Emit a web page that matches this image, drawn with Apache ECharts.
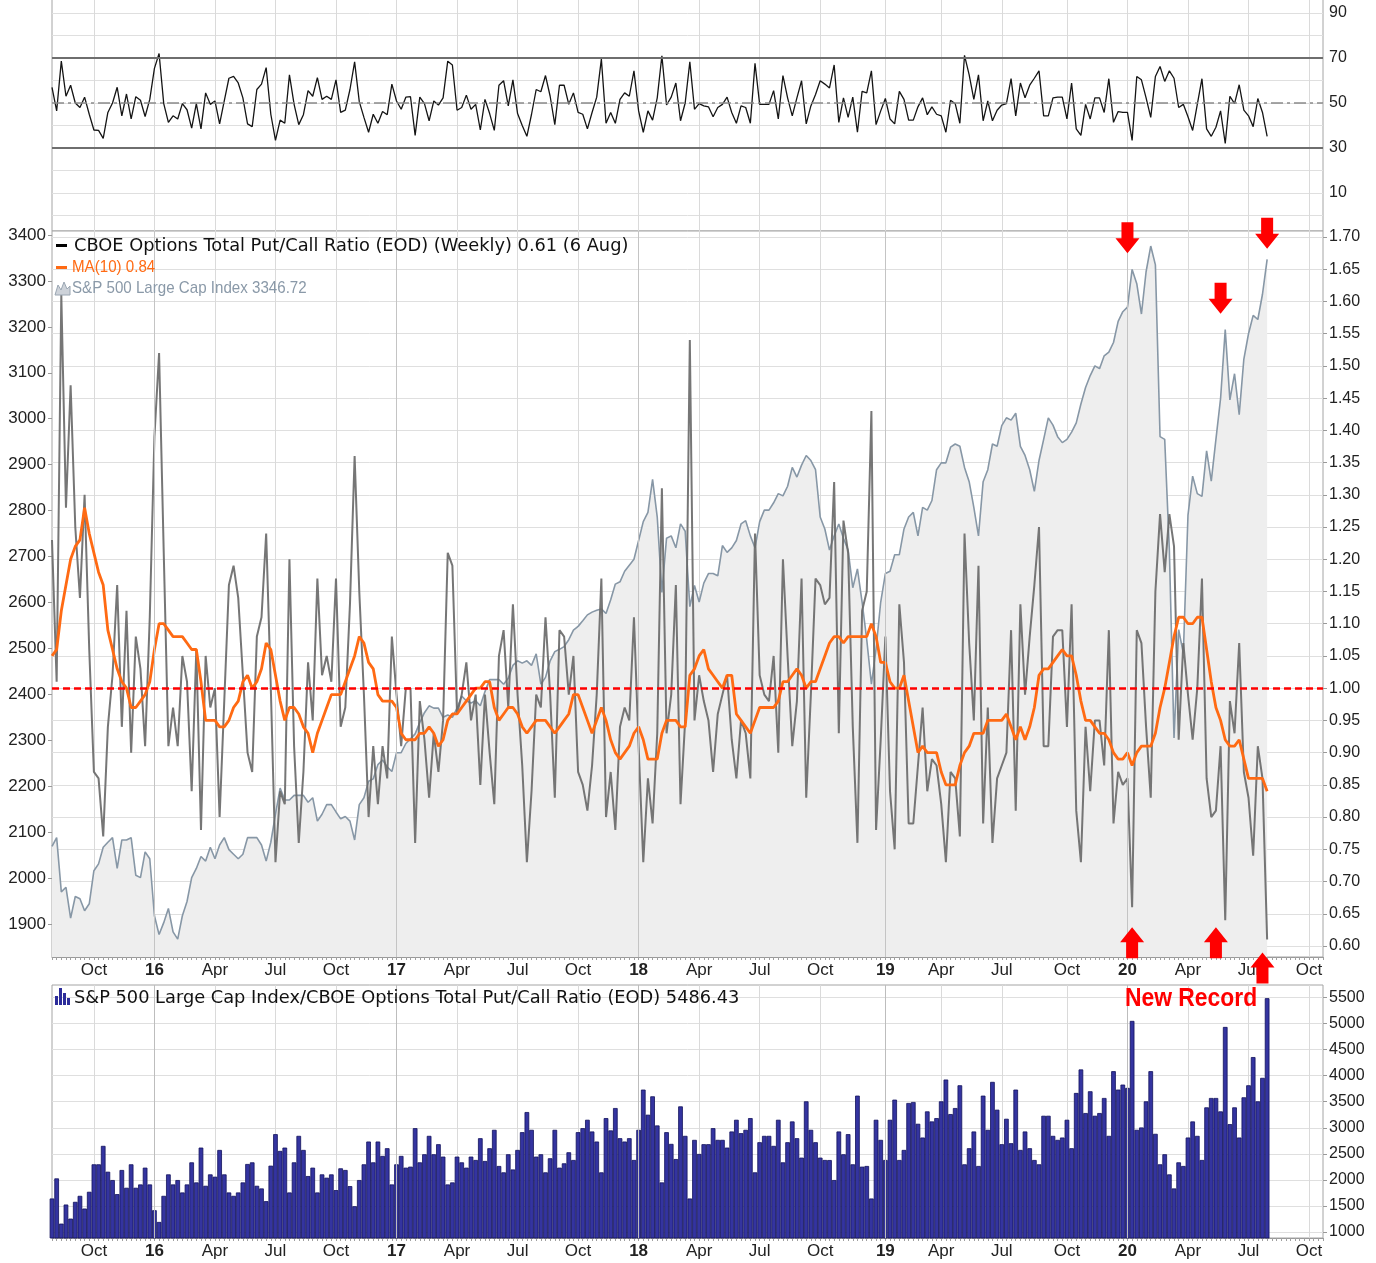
<!DOCTYPE html>
<html>
<head>
<meta charset="utf-8">
<title>S&amp;P 500 and CBOE Total Put/Call Ratio</title>
<script src="https://cdn.jsdelivr.net/npm/echarts@6/dist/echarts.min.js"></script>
<style>
  html, body { margin: 0; padding: 0; background: #fff; }
  #main { width: 1376px; height: 1263px; }
</style>
</head>
<body>
<div id="main"></div>
<script>
// weekly bars dated by the Monday of the week, 3 Aug 2015 .. 3 Aug 2020
var firstWeek = Date.UTC(2015, 7, 3);
var weeksOnAxis = 274; // axis runs on past the data to mid Oct 2020
var quarterNames = { 3: 'Apr', 6: 'Jul', 9: 'Oct' };

var putCall = [
  1.23,1.01,1.61,1.28,1.47,1.25,1.14,1.30,1.06,0.87,
  0.86,0.77,0.94,1.02,1.16,0.94,1.12,0.90,1.08,1.03,
  0.91,1.11,1.39,1.52,1.21,0.91,0.97,0.91,1.05,1.01,
  0.84,1.06,0.78,1.05,0.97,1.00,0.80,0.98,1.16,1.19,
  1.14,1.02,0.90,0.87,1.08,1.11,1.24,1.00,0.73,0.84,
  0.82,1.20,0.91,0.76,0.87,1.04,0.95,1.17,1.02,1.05,
  1.01,1.17,0.94,0.97,1.13,1.36,1.15,0.99,0.80,0.91,
  0.82,0.91,0.86,1.08,0.99,0.91,1.00,1.00,0.76,0.98,
  0.92,0.83,0.93,0.87,0.95,1.21,1.19,0.96,0.99,1.04,
  0.95,0.99,0.85,0.99,0.90,0.82,1.05,1.09,0.97,1.13,
  0.99,0.88,0.73,0.84,0.99,0.97,1.11,0.99,0.83,1.09,
  1.08,0.99,1.05,0.87,0.85,0.81,0.88,0.99,1.17,0.80,
  0.87,0.78,0.94,0.97,0.95,1.11,0.91,0.73,0.86,0.79,
  0.93,1.31,0.93,0.99,1.16,0.82,0.95,1.54,0.95,1.02,
  0.98,0.95,0.87,0.96,0.99,1.02,0.92,0.86,0.95,0.93,
  0.86,1.24,1.02,0.99,0.98,1.05,0.90,1.20,1.05,0.91,
  0.98,1.17,0.83,0.99,1.17,1.16,1.13,1.14,1.32,0.93,
  1.26,1.21,0.94,0.76,1.12,1.15,1.43,0.78,0.92,1.08,
  0.84,0.75,1.13,1.04,0.79,0.79,0.88,0.97,0.84,0.89,
  0.88,0.82,0.73,0.87,0.86,0.77,1.24,1.07,0.95,1.19,
  0.79,0.97,0.76,0.86,0.88,0.90,1.09,0.81,1.13,0.99,
  1.08,1.16,1.25,0.91,0.91,1.08,1.09,1.09,0.94,1.13,
  0.81,0.73,0.94,0.84,0.95,0.95,0.88,1.09,0.79,0.87,
  0.85,0.86,0.66,1.09,1.07,0.94,0.83,1.15,1.27,1.18,
  1.27,1.22,0.92,1.07,0.99,0.92,1.00,1.17,0.86,0.80,
  0.81,0.91,0.64,0.98,0.93,1.07,0.87,0.83,0.74,0.91,
  0.86,0.61
];

var spx = [
  2069,2088,1970,1980,1913,1960,1955,1929,1944,2016,
  2031,2067,2078,2088,2021,2083,2083,2088,2006,2001,
  2057,2042,1918,1877,1903,1934,1883,1867,1918,1949,
  2001,2021,2047,2037,2067,2042,2072,2088,2062,2052,
  2042,2052,2088,2088,2088,2072,2037,2078,2139,2196,
  2170,2170,2180,2180,2180,2165,2175,2124,2139,2160,
  2160,2144,2129,2134,2124,2083,2160,2175,2211,2216,
  2247,2257,2242,2232,2273,2273,2293,2303,2314,2339,
  2360,2375,2370,2370,2350,2355,2350,2370,2396,2386,
  2381,2386,2375,2406,2432,2432,2432,2422,2435,2463,
  2473,2468,2473,2463,2488,2422,2437,2473,2493,2498,
  2504,2519,2540,2548,2560,2573,2579,2583,2586,2576,
  2606,2640,2645,2668,2681,2694,2735,2776,2796,2868,
  2786,2622,2740,2745,2719,2771,2755,2591,2637,2601,
  2642,2663,2663,2658,2724,2709,2719,2735,2771,2778,
  2745,2719,2776,2801,2801,2817,2837,2832,2853,2894,
  2873,2899,2920,2909,2889,2786,2760,2714,2745,2771,
  2740,2714,2632,2673,2601,2519,2422,2499,2601,2663,
  2668,2704,2704,2760,2786,2796,2745,2807,2801,2822,
  2889,2904,2904,2938,2945,2940,2894,2863,2807,2745,
  2863,2889,2945,2940,2985,3002,2997,3012,2940,2920,
  2889,2842,2909,2955,3002,2986,2961,2948,2955,2971,
  2991,3032,3068,3094,3115,3109,3137,3145,3166,3212,
  3233,3243,3325,3294,3228,3320,3376,3335,2961,2955,
  2714,2305,2541,2489,2790,2875,2837,2831,2930,2864,
  2955,3044,3194,3041,3098,3009,3130,3185,3225,3216,
  3271,3346.72
];

var ma10 = [
  1.05,1.06,1.12,1.16,1.20,1.22,1.23,1.28,1.24,1.21,
  1.18,1.16,1.09,1.06,1.03,1.01,1.00,0.97,0.97,0.98,
  0.99,1.01,1.06,1.10,1.10,1.09,1.08,1.08,1.08,1.07,
  1.06,1.06,1.01,0.95,0.95,0.95,0.94,0.94,0.95,0.97,
  0.98,1.01,1.02,1.00,1.01,1.03,1.07,1.06,1.02,0.98,
  0.95,0.97,0.97,0.96,0.94,0.93,0.90,0.93,0.95,0.97,
  0.99,0.99,0.99,1.01,1.03,1.05,1.08,1.07,1.04,1.03,
  0.99,0.98,0.98,0.98,0.97,0.93,0.92,0.92,0.92,0.93,
  0.93,0.94,0.93,0.91,0.92,0.95,0.96,0.96,0.97,0.98,
  0.99,1.00,1.00,1.01,1.01,0.97,0.95,0.96,0.97,0.97,
  0.96,0.94,0.93,0.94,0.95,0.95,0.95,0.94,0.93,0.94,
  0.95,0.96,0.99,0.99,0.97,0.95,0.93,0.95,0.97,0.95,
  0.92,0.90,0.89,0.90,0.91,0.93,0.94,0.92,0.89,0.89,
  0.89,0.93,0.95,0.95,0.95,0.94,0.94,1.02,1.03,1.05,
  1.06,1.03,1.02,1.01,1.00,1.02,1.02,0.96,0.95,0.94,
  0.93,0.95,0.97,0.97,0.97,0.97,0.98,1.01,1.01,1.02,
  1.03,1.02,1.00,1.01,1.01,1.03,1.05,1.07,1.08,1.08,
  1.07,1.08,1.08,1.08,1.08,1.08,1.10,1.08,1.04,1.04,
  1.01,1.00,1.00,1.02,0.98,0.94,0.90,0.91,0.90,0.90,
  0.90,0.87,0.85,0.85,0.85,0.88,0.90,0.91,0.93,0.93,
  0.93,0.95,0.95,0.95,0.95,0.96,0.94,0.92,0.94,0.92,
  0.94,0.97,1.02,1.03,1.03,1.04,1.05,1.06,1.05,1.05,
  1.02,0.98,0.95,0.95,0.94,0.93,0.93,0.92,0.90,0.89,
  0.89,0.90,0.88,0.90,0.91,0.91,0.91,0.93,0.97,1.00,
  1.04,1.08,1.11,1.11,1.10,1.10,1.11,1.11,1.06,1.01,
  0.97,0.95,0.92,0.91,0.91,0.92,0.89,0.86,0.86,0.86,
  0.86,0.84
];

// S&P 500 divided by the put/call ratio, as drawn in the lower panel
var ratio = [
  1643,2029,1161,1527,1257,1579,1694,1450,1772,2299,
  2299,2653,2157,1997,1727,2190,1849,2299,1849,1913,
  2235,1913,1418,1193,1694,2106,1913,1997,1759,1913,
  2337,1952,2620,1887,2106,2061,2575,2106,1759,1694,
  1759,1952,2305,2337,1887,1836,1592,2273,2878,2556,
  2620,1759,2337,2845,2575,2074,2235,1759,2106,2042,
  2106,1804,2222,2190,1881,1495,1997,2299,2736,2337,
  2736,2460,2608,1913,2299,2460,2235,2254,2993,2337,
  2492,2845,2492,2685,2447,1913,1952,2447,2337,2235,
  2447,2382,2800,2363,2608,2961,2267,2145,2492,2200,
  2575,2916,3302,2961,2447,2492,2145,2415,2961,2235,
  2318,2530,2382,2916,2993,3154,2929,2736,2145,3186,
  2950,3379,2800,2736,2800,2382,2961,3733,3251,3604,
  3045,1952,2916,2691,2400,3411,2845,1643,2768,2498,
  2685,2685,2993,2768,2768,2620,2929,3154,2897,2961,
  3186,2145,2723,2845,2845,2653,3154,2337,2723,3122,
  2800,2427,3508,2961,2723,2427,2382,2381,1997,2929,
  2492,2878,2299,3617,2254,2267,1643,3154,2768,2382,
  3154,3540,2382,2575,3476,3495,3077,2813,3315,3122,
  3186,3508,3926,3263,3379,3816,2299,2608,2929,2267,
  3617,2961,3881,3347,2685,3173,2704,3733,2575,2929,
  2608,2382,2299,3231,3231,2845,2768,2813,3154,2608,
  3668,4119,3283,3701,3231,3283,3572,2845,4086,3733,
  3829,3765,5051,2961,3006,3508,4086,2884,2299,2492,
  2106,1836,2337,2267,2813,3122,2845,2382,3392,3572,
  3572,3315,4935,3070,3392,2813,3585,3816,4357,3508,
  3958,5486.43
];

// oscillator of the put/call ratio in the top panel
var osc = [
  57,46.5,68.6,53,57.9,50,48,52.6,45,38,
  37.8,34.3,45.8,50,57,44.3,54,42.9,52.8,51.2,
  44,51.6,65.4,72,49.7,41.4,44.3,42.9,49.7,47,
  38.8,49.7,38.5,54.5,49.4,50.9,40.7,50.9,61,61.8,
  58.9,52.3,40.7,39.5,56,58.4,65.7,45,33.4,42.4,
  41,62.5,49.4,40.4,44.8,55.5,53,61.3,51.6,53,
  51.6,60.3,45.8,46.8,56,68.3,50.6,43.6,37,45,
  41,46.2,44.8,58.4,50.9,47.2,52.6,52.8,35.6,52.6,
  49.7,42.1,50.9,49.1,52.3,68.6,66.9,46.8,48,53.5,
  47.2,49.4,38,51.6,45.3,37.8,57.9,59.9,48.7,60.3,
  45.3,40,35.2,45,56,55,62.2,53,40.4,57.9,
  57.9,49.4,54.5,45.8,45,38.5,45.8,52.6,69.5,41,
  45.8,41,51.6,54.5,53,64.3,46.5,37,46.5,42.4,
  52.3,71,49.1,52.6,58.9,42.1,50,68.3,
  47.2,49.7,48.7,48.3,43.9,48,49.4,52.6,45.8,41,
  48.7,48,41,67.6,49.4,49.4,49.4,55.5,42.9,62.2,
  52.3,44.3,52.3,59.9,40.7,48.7,53.8,59.9,58.4,56.7,
  66.9,41.4,52.3,43.6,52.6,37,55.2,54.5,64.3,40.4,
  46.5,52,42.9,40.7,55.2,51.6,42.4,42.4,48.3,52.3,
  44.8,48.3,45,44.3,37,51.2,49.7,41,71.2,62.5,
  51.6,62.5,42.1,50.9,42.1,46.8,49.1,49.7,60.8,44.3,
  58.9,52.3,57.9,61,64.3,44.3,44.3,52.3,52.6,52.6,
  42.9,58.9,38.5,35.6,49.4,42.9,52.3,52.3,45.8,60.8,
  41.4,46.2,45.8,45.8,33.4,61.8,60.3,52.3,43.6,61.8,
  66.2,59.6,64.3,61,48,49.4,43.9,37.8,49.4,60.8,
  38.5,35.2,39.2,46.5,32,53,49.7,58.1,46.8,44.3,
  39.5,52,45.8,35.2
];

// tick labels / grid lines
var oscLabels = [10, 30, 50, 70, 90];
var oscGrid = [0, 10, 20, 30, 40, 50, 60, 70, 80, 90];
var spxLabels = [1900, 2000, 2100, 2200, 2300, 2400, 2500, 2600, 2700, 2800, 2900, 3000, 3100, 3200, 3300, 3400];
var pcLabels = [0.60, 0.65, 0.70, 0.75, 0.80, 0.85, 0.90, 0.95, 1.00, 1.05, 1.10, 1.15, 1.20,
                1.25, 1.30, 1.35, 1.40, 1.45, 1.50, 1.55, 1.60, 1.65, 1.70];
var ratioLabels = [1000, 1500, 2000, 2500, 3000, 3500, 4000, 4500, 5000, 5500];

// red arrows: week index and put/call-axis level of the arrow centre
var arrowMarks = [
  { week: 231, level: 1.699, dir: 'down' },
  { week: 251, level: 1.605, dir: 'down' },
  { week: 261, level: 1.706, dir: 'down' },
  { week: 232, level: 0.605, dir: 'up' },
  { week: 250, level: 0.605, dir: 'up' },
  { week: 260, level: 0.566, dir: 'up' }
];

var weeks = [];
for (var i = 0; i < weeksOnAxis; i++) {
  weeks.push(new Date(firstWeek + i * 7 * 864e5).toISOString().slice(0, 10));
}
var quarterStart = [];
var yearStarts = [];
weeks.forEach(function (w, i) {
  var m = +w.slice(5, 7) - 1;
  var prev = i > 0 ? +weeks[i - 1].slice(5, 7) - 1 : -1;
  var q = m % 3 === 0 && m !== prev;
  quarterStart.push(q);
  if (q && m === 0) yearStarts.push(w);
});

var axisFont = "'Liberation Sans', Arial, sans-serif";
var legendFont = "'DejaVu Sans', Verdana, sans-serif";

function isQuarter(idx) { return quarterStart[idx]; }
function quarterLabel(value) {
  var m = +value.slice(5, 7) - 1;
  return m === 0 ? '{yr|' + value.slice(2, 4) + '}' : quarterNames[m];
}
function plain(v) { return String(v); }

function weekAxis(gridIndex, withLabels) {
  return {
    type: 'category',
    gridIndex: gridIndex,
    data: weeks,
    boundaryGap: false,
    axisLine: { show: withLabels, lineStyle: { color: '#9a9a9a', width: 1 } },
    axisTick: { show: withLabels, interval: 0, length: 3, lineStyle: { color: '#a0a0a0', width: 1 } },
    axisLabel: {
      show: withLabels, interval: isQuarter, formatter: quarterLabel, margin: 5,
      color: '#222', fontSize: 17, fontFamily: axisFont,
      rich: { yr: { fontWeight: 'bold', fontSize: 17, color: '#222', fontFamily: axisFont } }
    },
    splitLine: { show: true, interval: isQuarter, lineStyle: { color: '#dadada', width: 1 } }
  };
}

function yearLines(color) {
  return {
    silent: true, symbol: 'none', label: { show: false },
    lineStyle: { color: color, width: 1, type: 'solid' },
    data: yearStarts.map(function (w) { return { xAxis: w }; })
  };
}

function labelStyle(size) {
  return { color: '#222', fontSize: size, fontFamily: axisFont, margin: 6, formatter: plain };
}
var gridLine = { show: true, lineStyle: { color: '#dfdfdf', width: 1 } };

var gridBase = { left: 52, right: 53, show: true, borderColor: '#a4a4a4', borderWidth: 1,
                 backgroundColor: '#ffffff', containLabel: false, outerBoundsMode: 'none' };

function legendText(text, x, y, font, color, sx) {
  return {
    type: 'text', z: 100, x: x, y: y, scaleX: sx || 1,
    style: { text: text, x: 0, y: 0, font: font, fill: color,
             verticalAlign: 'middle', textVerticalAlign: 'middle' }
  };
}

var legends = [
  { type: 'rect', z: 100, shape: { x: 56, y: 244, width: 11, height: 3 }, style: { fill: '#000' } },
  legendText('CBOE Options Total Put/Call Ratio (EOD) (Weekly) 0.61 (6 Aug)', 74, 246,
             '17.8px ' + legendFont, '#111'),
  { type: 'rect', z: 100, shape: { x: 56, y: 266, width: 11, height: 3 }, style: { fill: '#ff6a13' } },
  legendText('MA(10) 0.84', 72, 267.5, '17px ' + axisFont, '#ff6a13', 0.89),
  { type: 'polygon', z: 100, shape: { points: [[55, 295], [58, 285], [61, 290], [64, 282], [67, 289], [70, 286], [70, 295]] },
    style: { fill: '#cdd2d9', stroke: '#9aa6b2', lineWidth: 1 } },
  legendText('S&P 500 Large Cap Index 3346.72', 72, 288.5, '17px ' + axisFont, '#8a99a8', 0.89),
  { type: 'rect', z: 100, shape: { x: 55, y: 996, width: 3, height: 9 }, style: { fill: '#2c2c9a' } },
  { type: 'rect', z: 100, shape: { x: 59, y: 988, width: 3, height: 17 }, style: { fill: '#2c2c9a' } },
  { type: 'rect', z: 100, shape: { x: 63, y: 993, width: 3, height: 12 }, style: { fill: '#2c2c9a' } },
  { type: 'rect', z: 100, shape: { x: 67, y: 998, width: 3, height: 7 }, style: { fill: '#2c2c9a' } },
  legendText('S&P 500 Large Cap Index/CBOE Options Total Put/Call Ratio (EOD) 5486.43', 74, 998,
             '17.8px ' + legendFont, '#111'),
  {
    type: 'text', z: 100, x: 1191, y: 999, scaleX: 0.88,
    style: { text: 'New Record', x: 0, y: 0, font: 'bold 26px ' + axisFont, fill: '#ff0000',
             align: 'center', textAlign: 'center', verticalAlign: 'middle', textVerticalAlign: 'middle' }
  }
];

var option = {
  animation: false,
  backgroundColor: '#ffffff',
  textStyle: { fontFamily: axisFont },
  grid: [
    Object.assign({}, gridBase, { top: -2, height: 233 }),
    Object.assign({}, gridBase, { top: 231, height: 726 }),
    Object.assign({}, gridBase, { top: 985, height: 253 })
  ],
  xAxis: [weekAxis(0, false), weekAxis(1, true), weekAxis(2, true)],
  yAxis: [
    {
      type: 'value', gridIndex: 0, position: 'right', min: -6.89, max: 96.67,
      axisLine: { show: false },
      axisTick: { show: false, customValues: oscGrid },
      axisLabel: Object.assign(labelStyle(16), { customValues: oscLabels }),
      splitLine: gridLine
    },
    {
      type: 'value', gridIndex: 1, position: 'left', min: 1828.2, max: 3408.7,
      axisLine: { show: false },
      axisTick: { show: true, length: 4, customValues: spxLabels, lineStyle: { color: '#999' } },
      axisLabel: Object.assign(labelStyle(17), { customValues: spxLabels }),
      splitLine: { show: false }
    },
    {
      type: 'value', gridIndex: 1, position: 'right', min: 0.5829, max: 1.7093,
      axisLine: { show: false },
      axisTick: { show: true, length: 4, customValues: pcLabels, lineStyle: { color: '#999' } },
      axisLabel: Object.assign(labelStyle(16), {
        customValues: pcLabels,
        formatter: function (v) { return v.toFixed(2); }
      }),
      splitLine: gridLine
    },
    {
      type: 'value', gridIndex: 2, position: 'right', min: 885, max: 5740,
      axisLine: { show: false },
      axisTick: { show: true, length: 4, customValues: ratioLabels, lineStyle: { color: '#999' } },
      axisLabel: Object.assign(labelStyle(16), { customValues: ratioLabels }),
      splitLine: gridLine
    }
  ],
  series: [
    {
      name: 'Oscillator', type: 'line', xAxisIndex: 0, yAxisIndex: 0, data: osc,
      symbol: 'none', z: 3,
      lineStyle: { color: '#141414', width: 1.3 },
      markLine: {
        silent: true, symbol: 'none', label: { show: false },
        data: [
          { yAxis: 70, lineStyle: { color: '#6e6e6e', width: 2, type: 'solid' } },
          { yAxis: 30, lineStyle: { color: '#6e6e6e', width: 2, type: 'solid' } },
          { yAxis: 50, lineStyle: { color: '#8a8a8a', width: 1.5, type: [12, 4, 3, 4] } }
        ]
      }
    },
    {
      name: 'S&P 500 Large Cap Index', type: 'line', xAxisIndex: 1, yAxisIndex: 1, data: spx,
      symbol: 'none', z: 2,
      lineStyle: { color: '#8797a6', width: 1.6 },
      areaStyle: { color: '#eeeeee', opacity: 1, origin: 'start' },
      markLine: yearLines('#c4c4c4')
    },
    {
      name: 'CBOE Options Total Put/Call Ratio', type: 'line', xAxisIndex: 1, yAxisIndex: 2, data: putCall,
      symbol: 'none', z: 3,
      lineStyle: { color: '#6a6a6a', width: 2, opacity: 0.92 }
    },
    {
      name: 'MA(10)', type: 'line', xAxisIndex: 1, yAxisIndex: 2, data: ma10,
      symbol: 'none', z: 4,
      lineStyle: { color: '#ff6a13', width: 2.8 },
      markLine: {
        silent: true, symbol: 'none', label: { show: false },
        lineStyle: { color: '#ff0000', width: 2.5, type: [7, 4] },
        data: [{ yAxis: 1.0 }]
      }
    },
    {
      name: 'S&P 500 / Put-Call', type: 'bar', xAxisIndex: 2, yAxisIndex: 3, data: ratio,
      barCategoryGap: '0%', barGap: '0%', z: 2,
      itemStyle: { color: '#3434a0', borderColor: '#12125c', borderWidth: 0.8 },
      markLine: yearLines('#bdbdbd')
    }
  ],
  graphic: legends
};

var chart = echarts.init(document.getElementById('main'));
chart.setOption(option);

// arrows are placed through the put/call axis of the middle panel
function arrowShape(a) {
  var p = chart.convertToPixel({ seriesIndex: 3 }, [weeks[a.week], a.level]);
  var cx = p[0], cy = p[1];
  var pts = a.dir === 'down'
    ? [[cx - 6, cy - 15.5], [cx + 6, cy - 15.5], [cx + 6, cy + 0.5], [cx + 12, cy + 0.5],
       [cx, cy + 15.5], [cx - 12, cy + 0.5], [cx - 6, cy + 0.5]]
    : [[cx, cy - 15.5], [cx + 12, cy - 0.5], [cx + 6, cy - 0.5], [cx + 6, cy + 15.5],
       [cx - 6, cy + 15.5], [cx - 6, cy - 0.5], [cx - 12, cy - 0.5]];
  return { type: 'polygon', z: 110, shape: { points: pts }, style: { fill: '#ff0000' } };
}
chart.setOption({ graphic: legends.concat(arrowMarks.map(arrowShape)) });

window.addEventListener('resize', function () { chart.resize(); });
</script>
</body>
</html>
